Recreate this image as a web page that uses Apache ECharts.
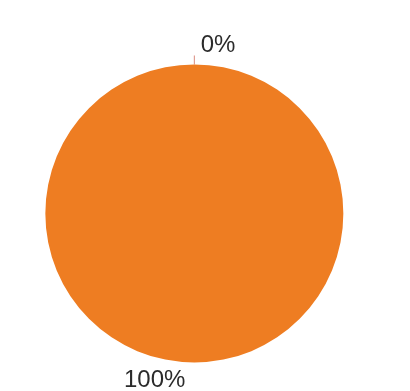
<!DOCTYPE html>
<html>
<head>
<meta charset="utf-8">
<script src="https://cdn.jsdelivr.net/npm/echarts@6/dist/echarts.min.js"></script>
<style>
  html, body { margin: 0; padding: 0; background: #fff; }
  #chart { width: 410px; height: 391px; }
</style>
</head>
<body>
<div id="chart"></div>
<script>
var categories = ['A', 'B'];
var values = [0, 100];
var colors = ['#d98b7e', '#ee7d22'];

var chart = echarts.init(document.getElementById('chart'));

var pieData = categories.map(function (name, i) {
  return {
    name: name,
    value: values[i],
    itemStyle: { color: colors[i] },
    labelLine: { show: i === 0 }
  };
});

chart.setOption({
  backgroundColor: '#ffffff',
  animation: false,
  series: [{
    type: 'pie',
    center: ['47.4%', '54.6%'],
    radius: 149,
    startAngle: 90,
    clockwise: true,
    avoidLabelOverlap: false,
    data: pieData,
    label: {
      show: true,
      formatter: '{d}%',
      fontFamily: 'Liberation Sans, Arial, sans-serif',
      fontSize: 24,
      color: '#2b2b2b'
    },
    labelLine: {
      length: 9,
      length2: 0,
      lineStyle: { width: 1 }
    },
    labelLayout: function (params) {
      // nudge labels to where the original has them
      return params.dataIndex === 0 ? { dx: 46, dy: -10 } : { dx: -4, dy: 9 };
    },
    emphasis: { disabled: true }
  }]
});
</script>
</body>
</html>
